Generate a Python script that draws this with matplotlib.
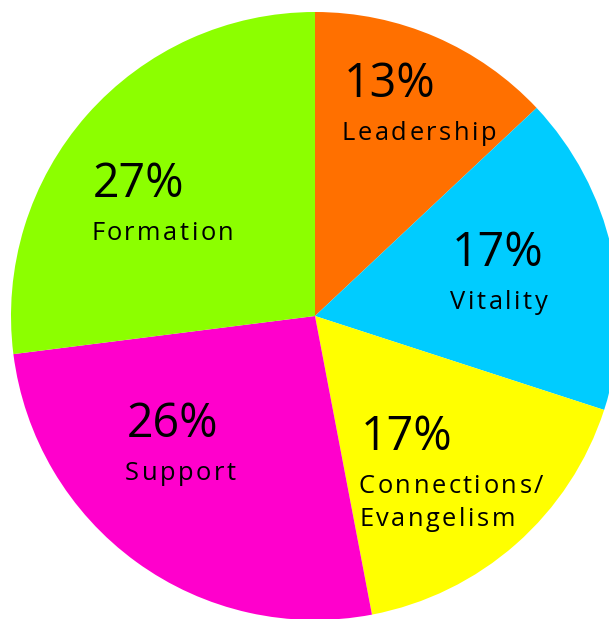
import matplotlib
matplotlib.use("Agg")
import matplotlib.pyplot as plt

# Slice data (clockwise from the top)
categories = ["Leadership", "Vitality", "Connections/\nEvangelism", "Support", "Formation"]
shares = [13, 17, 17, 26, 27]
colors = ["#ff7000", "#00ccff", "#ffff00", "#ff00cc", "#8cff00"]

# Label anchors in image pixels: left edge, baseline of the percentage
label_pos = [(344, 97), (452, 266), (361, 450), (127, 437), (93, 197)]

W, H = 609, 619
FONT = "Open Sans"


def spaced_text(ax, renderer, x, y, s, size, spacing):
    """Draw text char by char with extra letter spacing (pixels)."""
    for i, ch in enumerate(s):
        if i == 0:
            offset = 0.0
        else:
            probe = ax.text(0, 0, s[:i], fontsize=size, family=FONT)
            offset = probe.get_window_extent(renderer).width
            probe.remove()
        ax.text(x + offset + i * spacing, y, ch, fontsize=size, family=FONT,
                ha="left", va="baseline", color="black")


fig = plt.figure(figsize=(W / 100, H / 100), dpi=100)
ax = fig.add_axes([0, 0, 1, 1])

ax.pie(
    shares,
    colors=colors,
    startangle=90,
    counterclock=False,
    center=(315, H - 316),
    radius=304,
    wedgeprops=dict(linewidth=0),
)
ax.set_xlim(0, W)
ax.set_ylim(0, H)
ax.axis("off")

renderer = fig.canvas.get_renderer()

for name, share, (px, py) in zip(categories, shares, label_pos):
    ax.text(px, H - py, f"{share}%", fontsize=33.5, family=FONT,
            ha="left", va="baseline", color="black")
    for k, line in enumerate(name.split("\n")):
        ly = py + 43 + k * 33
        spaced_text(ax, renderer, px - 2, H - ly, line, 18.4, 2.5)

fig.savefig("out.png", dpi=100)
